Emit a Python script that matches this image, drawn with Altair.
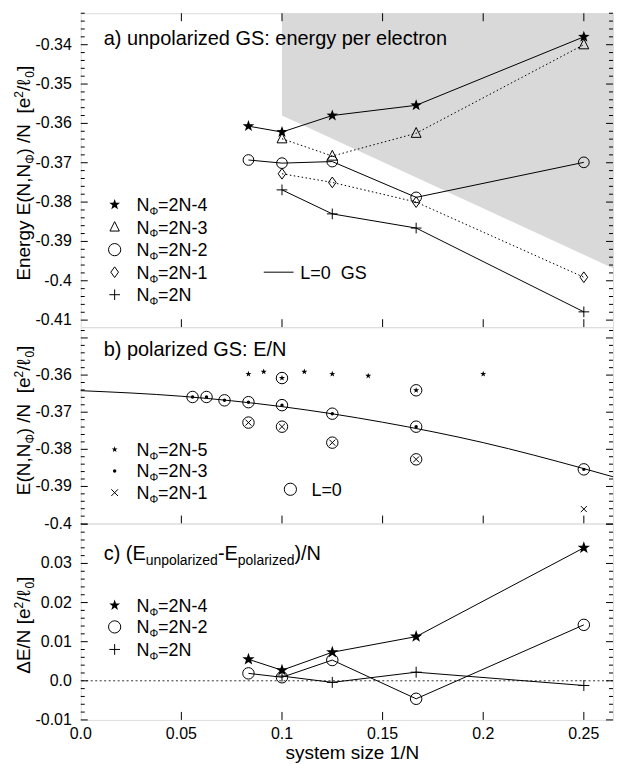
import altair as alt
import pandas as pd
import numpy as np

FONT = "Liberation Sans"

# ---------------- data ----------------
inv_N = [1/12, 1/10, 1/8, 1/6, 1/4]
inv_N_from10 = [1/10, 1/8, 1/6, 1/4]

# panel a: unpolarized ground state, energy per electron
a_2N_4 = [-0.3607, -0.3622, -0.3580, -0.3554, -0.3380]   # x = inv_N
a_2N_3 = [-0.3639, -0.3683, -0.3625, -0.3400]            # x = inv_N_from10
a_2N_2 = [-0.3693, -0.3701, -0.3697, -0.3788, -0.3699]   # x = inv_N
a_2N_1 = [-0.3728, -0.3750, -0.3800, -0.3991]            # x = inv_N_from10
a_2N_0 = [-0.3769, -0.3830, -0.3866, -0.4079]            # x = inv_N_from10
shade_x = [0.1, 0.2645]
shade_lower = [-0.3580, -0.3968]

# panel b: polarized ground state
b_x_5 = [1/12, 1/11, 1/10, 1/9, 1/8, 1/7, 1/6, 1/5]
b_2N_5 = [-0.3597, -0.3591, -0.3608, -0.3591, -0.3597, -0.3602, -0.3641, -0.3597]
b_L0_5 = [0, 0, 1, 0, 0, 0, 1, 0]
b_x_3 = [1/18, 1/16, 1/14, 1/12, 1/10, 1/8, 1/6, 1/4]
b_2N_3 = [-0.3659, -0.3659, -0.3668, -0.3673, -0.3681, -0.3704, -0.3739, -0.3854]
b_L0_3 = [1, 1, 1, 1, 1, 1, 1, 1]
b_x_1 = [1/12, 1/10, 1/8, 1/6, 1/4]
b_2N_1 = [-0.3728, -0.3739, -0.3782, -0.3827, -0.3961]
b_L0_1 = [1, 1, 1, 1, 0]
fit_x = [0.0, 0.05, 0.1, 0.15, 0.2, 0.25, 0.2645]
fit_y = [-0.3642, -0.3657, -0.3685, -0.3727, -0.3782, -0.3852, -0.3874]

# panel c: (E_unpolarized - E_polarized)/N
c_2N_4 = [0.0055, 0.0027, 0.0073, 0.0113, 0.0340]        # x = inv_N
c_2N_2 = [0.0019, 0.0009, 0.0053, -0.0046, 0.0143]       # x = inv_N
c_2N_0 = [0.0012, -0.0004, 0.0022, -0.0012]              # x = inv_N_from10
c_zero = [0.0]

x_tick_values = [0.0, 0.05, 0.1, 0.15, 0.2, 0.25]
a_y_labels = [-0.41, -0.4, -0.39, -0.38, -0.37, -0.36, -0.35, -0.34]
b_y_labels = [-0.4, -0.39, -0.38, -0.37, -0.36]
c_y_labels = [-0.01, 0.0, 0.01, 0.02, 0.03]

# ---------------- geometry ----------------
W = 534
HA, HB, HC = 315, 197, 197
XD = [0.0, 0.2645]
AD = [-0.4118, -0.3320]
BD = [-0.4, -0.3471]
CD = [-0.01, 0.0402]

STAR = "M0,-1L0.235,-0.324L0.951,-0.309L0.38,0.124L0.588,0.809L0,0.4L-0.588,0.809L-0.38,0.124L-0.951,-0.309L-0.235,-0.324Z"
PLUS = "M-1,0L1,0M0,-1L0,1"
XMARK = "M-0.75,-0.75L0.75,0.75M-0.75,0.75L0.75,-0.75"
DIAMOND = "M0,-1L0.72,0L0,1L-0.72,0Z"
TRI = "M0,-1.05L0.9,0.75L-0.9,0.75Z"
DOT = [1.5, 2.5]

ARIAL = {' ': 278, '\u00a0': 278, '(': 333, ')': 333, ',': 278, '-': 333, '.': 278, '/': 278,
         ':': 278, '=': 584, '[': 278, ']': 278, 'E': 667, 'G': 778, 'L': 556, 'N': 722,
         'S': 667, 'Φ': 778, 'Δ': 668, 'ℓ': 420, 'a': 556, 'b': 556, 'c': 500, 'd': 556,
         'e': 556, 'g': 556, 'i': 222, 'l': 222, 'n': 556, 'o': 556, 'p': 556, 'r': 333,
         't': 278, 'u': 556, 'y': 500, 'z': 500, 's': 500, 'm': 833}


def fmt(v):
    return "0.0" if v == 0 else f"{v:g}"


def tw(s, size):
    return sum(ARIAL.get(ch, 556) for ch in s) * size / 1000.0


def rich(segs, x0, y0, angle=0, center=False):
    total = sum(tw(t, s) for t, s, _ in segs)
    pos = -total / 2 if center else 0.0
    rows = []
    for t, s, sh in segs:
        if angle == 0:
            rows.append(dict(px=x0 + pos, py=y0 + sh, txt=t, fs=s, ang=0))
        else:
            rows.append(dict(px=x0 + sh, py=y0 - pos, txt=t, fs=s, ang=270))
        pos += tw(t, s)
    return rows


def text_layer(rows):
    df = pd.DataFrame(rows)
    return alt.Chart(df).mark_text(align="left", baseline="alphabetic", font=FONT, color="black").encode(
        x=alt.X("px:Q", scale=None, axis=None),
        y=alt.Y("py:Q", scale=None, axis=None),
        text="txt:N",
        size=alt.Size("fs:Q", scale=None, legend=None),
        angle=alt.Angle("ang:Q", scale=None, legend=None),
    )


def X(field):
    return alt.X(field, type="quantitative", scale=alt.Scale(domain=XD, nice=False, zero=False), axis=None)


def Y(field, dom):
    return alt.Y(field, type="quantitative", scale=alt.Scale(domain=dom, nice=False, zero=False), axis=None)


def line(xs, ys, dom, dash=None):
    df = pd.DataFrame({"x": xs, "y": ys})
    kw = dict(color="black", strokeWidth=1)
    if dash:
        kw["strokeDash"] = dash
    return alt.Chart(df).mark_line(**kw).encode(x=X("x"), y=Y("y", dom))


def pts(xs, ys, dom, shape, size, filled=False):
    df = pd.DataFrame({"x": xs, "y": ys})
    return alt.Chart(df).mark_point(shape=shape, size=size, filled=filled, color="black",
                                    opacity=1, strokeWidth=1).encode(x=X("x"), y=Y("y", dom))


def sym(x, y, shape, size, filled=False):
    return alt.Chart(pd.DataFrame({"k": [0]})).mark_point(
        shape=shape, size=size, filled=filled, color="black", opacity=1, strokeWidth=1
    ).encode(x=alt.value(x), y=alt.value(y))


def tick_layers(H, dom, lo, hi, labels, top=False):
    majors = [round(v, 3) for v in np.arange(lo, hi + 1e-9, 0.01)]
    allm = [round(v, 4) for v in np.arange(lo, dom[1] + 1e-9, 0.002)]
    minors = [v for v in allm if abs(v * 100 - round(v * 100)) > 1e-6]
    xt = pd.DataFrame({"xt": x_tick_values[1:]})
    mj = pd.DataFrame({"yt": majors})
    mn = pd.DataFrame({"yt": minors})
    lab = pd.DataFrame({"yt": labels, "lab": [fmt(v) for v in labels]})
    rule = dict(color="black", strokeWidth=1)
    L = [
        alt.Chart(xt).mark_rule(**rule).encode(x=X("xt"), y=alt.value(H), y2=alt.value(H - 8)),
        alt.Chart(mj).mark_rule(**rule).encode(y=Y("yt", dom), x=alt.value(0), x2=alt.value(7)),
        alt.Chart(mj).mark_rule(**rule).encode(y=Y("yt", dom), x=alt.value(W), x2=alt.value(W - 7)),
        alt.Chart(mn).mark_rule(**rule).encode(y=Y("yt", dom), x=alt.value(0), x2=alt.value(4)),
        alt.Chart(mn).mark_rule(**rule).encode(y=Y("yt", dom), x=alt.value(W), x2=alt.value(W - 4)),
        alt.Chart(lab).mark_text(align="right", baseline="middle", font=FONT, fontSize=16,
                                 color="black").encode(y=Y("yt", dom), x=alt.value(-9), text="lab:N"),
    ]
    if top:
        L.append(alt.Chart(xt).mark_rule(**rule).encode(x=X("xt"), y=alt.value(0), y2=alt.value(8)))
    return L


def nphi(suffix, x, yc):
    return rich([("N", 18, 0), ("Φ", 11, 4), (suffix, 18, 0)], x, yc + 6.4)


YT_X = -51
UNIT = [("[e", 19, 0), ("2", 12, -7), ("/ℓ", 19, 0), ("0", 12, 4), ("]", 19, 0)]

# ---------------- panel a ----------------
shade_df = pd.DataFrame({"x": shade_x, "lo": shade_lower, "hi": [AD[1]] * len(shade_x)})
shade = alt.Chart(shade_df).mark_area(color="#d9d9d9", opacity=1).encode(
    x=X("x"), y=Y("lo", AD), y2=alt.Y2("hi"))

rows_a = []
rows_a += rich([("a) unpolarized GS: energy per electron", 20, 0)], 23, 32.3)
for suf, yc in zip(["=2N-4", "=2N-3", "=2N-2", "=2N-1", "=2N"], [192, 214.6, 237.2, 259.8, 282.4]):
    rows_a += nphi(suf, 56, yc)
rows_a += rich([("L=0\u00a0 GS", 18, 0)], 220.3, 259.8 + 6.4)
rows_a += rich([("Energy E(N,N", 19, 0), ("Φ", 12, 4), (") /N\u00a0\u00a0", 19, 0)] + UNIT,
               YT_X, 160.5, angle=270, center=True)

bound_mark = alt.Chart(pd.DataFrame({"k": [0]})).mark_rule(strokeOpacity=0, strokeWidth=1).encode(
    x=alt.value(-72.5), x2=alt.value(-72.5), y=alt.value(0), y2=alt.value(10))

panel_a = alt.layer(
    shade,
    *tick_layers(HA, AD, -0.41, -0.34, a_y_labels, top=True),
    line(inv_N, a_2N_4, AD), line(inv_N_from10, a_2N_3, AD, DOT), line(inv_N, a_2N_2, AD),
    line(inv_N_from10, a_2N_1, AD, DOT), line(inv_N_from10, a_2N_0, AD),
    pts(inv_N, a_2N_4, AD, STAR, 150, True),
    pts(inv_N_from10, a_2N_3, AD, TRI, 121),
    pts(inv_N, a_2N_2, AD, "circle", 115),
    pts(inv_N_from10, a_2N_1, AD, DIAMOND, 115),
    pts(inv_N_from10, a_2N_0, AD, PLUS, 115),
    sym(34, 192, STAR, 130, True), sym(34, 214.6, TRI, 110), sym(34, 237.2, "circle", 150),
    sym(34, 259.8, DIAMOND, 115), sym(34, 282.4, PLUS, 115),
    alt.Chart(pd.DataFrame({"k": [0]})).mark_rule(color="black", strokeWidth=1).encode(
        x=alt.value(183.6), x2=alt.value(213.5), y=alt.value(259.8)),
    text_layer(rows_a),
    bound_mark,
).properties(width=W, height=HA)

# ---------------- panel b ----------------
L0_x = [x for x, f in zip(b_x_5, b_L0_5) if f] + [x for x, f in zip(b_x_3, b_L0_3) if f] + \
       [x for x, f in zip(b_x_1, b_L0_1) if f]
L0_y = [y for y, f in zip(b_2N_5, b_L0_5) if f] + [y for y, f in zip(b_2N_3, b_L0_3) if f] + \
       [y for y, f in zip(b_2N_1, b_L0_1) if f]

rows_b = []
rows_b += rich([("b) polarized GS: E/N", 20, 0)], 23, 29)
for suf, yc in zip(["=2N-5", "=2N-3", "=2N-1"], [122.6, 144.3, 166]):
    rows_b += nphi(suf, 56, yc)
rows_b += rich([("L=0", 18, 0)], 231.4, 162.6 + 6.4)
rows_b += rich([("E(N,N", 19, 0), ("Φ", 12, 4), (") /N\u00a0\u00a0", 19, 0)] + UNIT,
               YT_X, 93.5, angle=270, center=True)

fit_df = pd.DataFrame({"x": fit_x, "y": fit_y})
panel_b = alt.layer(
    *tick_layers(HB, BD, -0.4, -0.35, b_y_labels),
    alt.Chart(fit_df).mark_line(color="black", strokeWidth=1, interpolate="monotone").encode(
        x=X("x"), y=Y("y", BD)),
    pts(b_x_5, b_2N_5, BD, STAR, 40, True),
    pts(b_x_3, b_2N_3, BD, "circle", 12, True),
    pts(b_x_1, b_2N_1, BD, XMARK, 64),
    pts(L0_x, L0_y, BD, "circle", 132),
    sym(34, 122.6, STAR, 40, True), sym(34, 144.3, "circle", 12, True), sym(34, 166, XMARK, 81),
    sym(210.3, 162.6, "circle", 150),
    text_layer(rows_b),
).properties(width=W, height=HB)

# ---------------- panel c ----------------
rows_c = []
rows_c += rich([("c) (E", 20, 0), ("unpolarized", 14, 5), ("-E", 20, 0), ("polarized", 14, 5), (")/N", 20, 0)],
               23, 36.3)
for suf, yc in zip(["=2N-4", "=2N-2", "=2N"], [82, 103.7, 126.3]):
    rows_c += nphi(suf, 56, yc)
rows_c += rich([("ΔE/N\u00a0", 19, 0)] + UNIT, YT_X, 102, angle=270, center=True)
rows_c += rich([("system size 1/N", 19, 0)], 272.5, 236.5, center=True)

xlab_df = pd.DataFrame({"xt": x_tick_values, "lab": [fmt(v) for v in x_tick_values]})
zero_df = pd.DataFrame({"y": c_zero})
panel_c = alt.layer(
    alt.Chart(zero_df).mark_rule(color="#333333", strokeWidth=1, strokeDash=[2, 2.5]).encode(y=Y("y", CD)),
    *tick_layers(HC, CD, -0.01, 0.04, c_y_labels),
    alt.Chart(xlab_df).mark_text(align="center", baseline="alphabetic", font=FONT, fontSize=16,
                                 color="black").encode(x=X("xt"), y=alt.value(216.5), text="lab:N"),
    line(inv_N, c_2N_4, CD), line(inv_N, c_2N_2, CD), line(inv_N_from10, c_2N_0, CD),
    pts(inv_N, c_2N_4, CD, STAR, 170, True),
    pts(inv_N, c_2N_2, CD, "circle", 132),
    pts(inv_N_from10, c_2N_0, CD, PLUS, 121),
    sym(34, 82, STAR, 130, True), sym(34, 103.7, "circle", 150), sym(34, 126.3, PLUS, 115),
    text_layer(rows_c),
).properties(width=W, height=HC)

chart = alt.vconcat(panel_a, panel_b, panel_c, spacing=0, bounds="flush").properties(
    padding={"left": 0, "top": 3, "right": 0, "bottom": 4},
    background="white",
).configure_view(stroke="black", strokeWidth=1).configure(font=FONT)

chart.save("out.html", embed_options={"renderer": "svg", "actions": False})
